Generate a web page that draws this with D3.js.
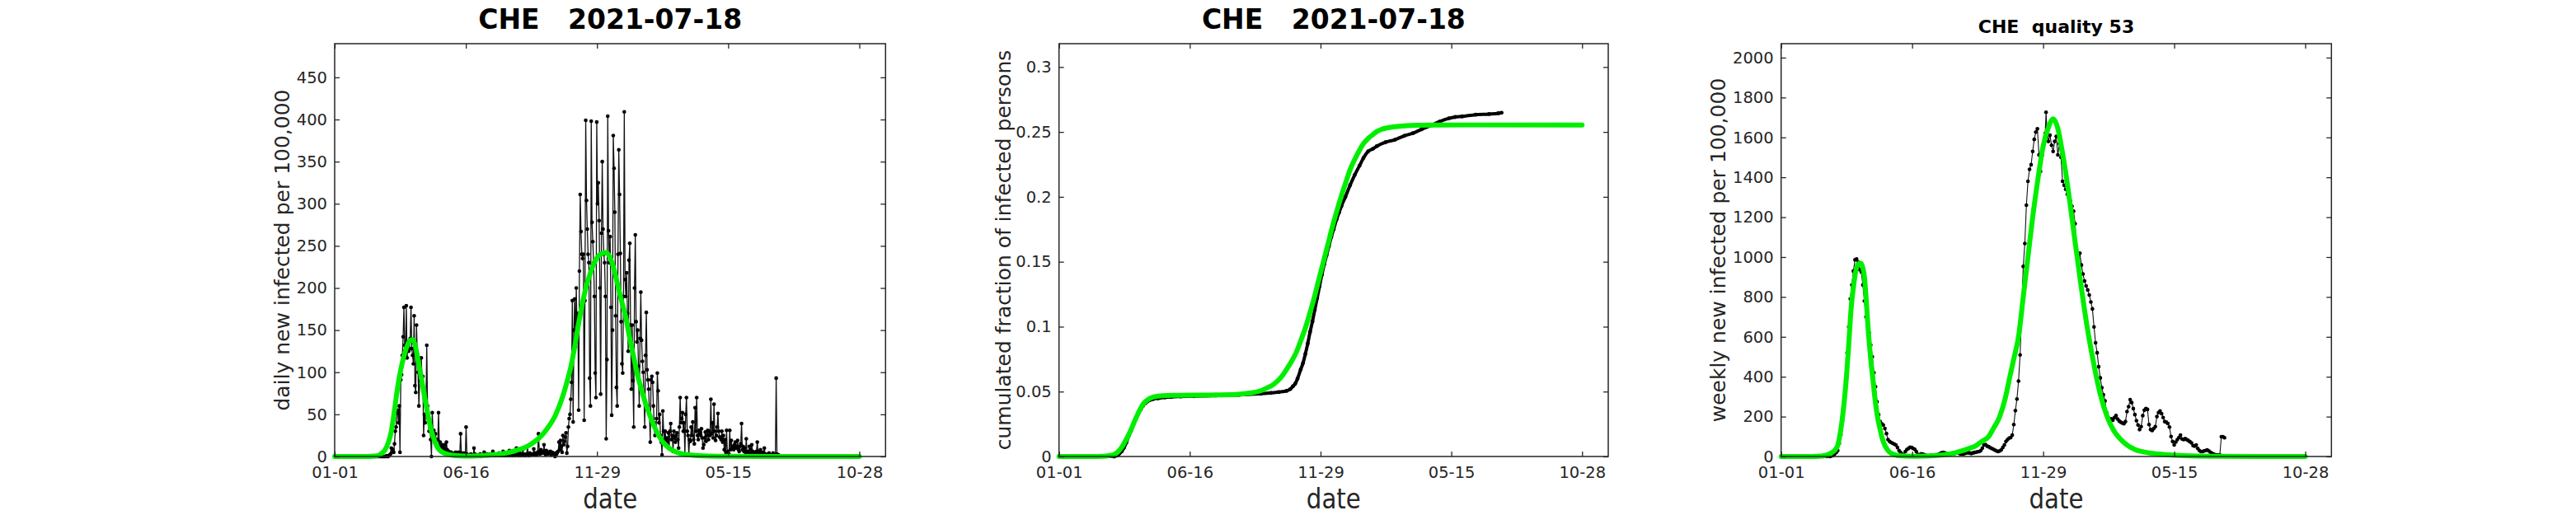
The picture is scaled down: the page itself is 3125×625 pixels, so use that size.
<!DOCTYPE html>
<html><head><meta charset="utf-8">
<script src="https://cdn.jsdelivr.net/npm/d3@7"></script>
<style>
body{margin:0;background:#fff}
text{font-family:"DejaVu Sans",sans-serif}
</style>
</head><body>
<svg id="chart" width="3125" height="625"></svg>
<script>
// ---------------- DATA ----------------
const country = "CHE";
const reportDate = "2021-07-18";
const quality = 53;

// x axis: days since 2020-01-01
const xTickDays = [0, 166.67, 333.33, 500, 666.67];
const xTickLabels = ["01-01", "06-16", "11-29", "05-15", "10-28"];

const dailyTicks = [0, 50, 100, 150, 200, 250, 300, 350, 400, 450];
const cumTicks = [0, 0.05, 0.1, 0.15, 0.2, 0.25, 0.3];
const cumTickLabels = ["0", "0.05", "0.1", "0.15", "0.2", "0.25", "0.3"];
const weeklyTicks = [0, 200, 400, 600, 800, 1000, 1200, 1400, 1600, 1800, 2000];

// daily new infected per 100,000 ; rows of 7 days, first row starts on day 49
const dailyStart = 49;
const dailyWeeks = [
  [0,0,0,0,0,0,0],          // 49
  [0,0,0,0,0,0,0],          // 56
  [0,0,0,1,0,0,1],          // 63
  [2,3,10,6,8,5,15],        // 70
  [30,35,52,55,40,60,5],    // 77
  [91,97,120,142,177,132,119], // 84
  [179,117,130,125,128,140,177], // 91
  [128,120,110,167,84,76,156],  // 98
  [119,100,60,90,96,117,95],    // 105
  [95,25,50,40,60,132,60],      // 112
  [45,30,35,20,0,52,30],        // 119
  [31,22,27,15,12,20,52],       // 126
  [10,17,8,12,14,10,5],         // 133
  [14,6,17,8,4,6,4],            // 140
  [3,5,2,3,1,4,2],              // 147
  [5,3,2,1,5,3,27],             // 154
  [4,3,2,4,3,2,35],             // 161
  [3,2,1,2,1,3,2],              // 168
  [2,1,10,3,2,1,2],             // 175
  [1,2,1,3,0,2,1],              // 182
  [2,5,1,2,3,1,2],              // 189
  [1,3,2,1,2,6,1],              // 196
  [2,1,3,2,1,2,4],              // 203
  [1,2,3,1,6,2,1],              // 210
  [4,2,1,3,2,7,1],              // 217
  [2,3,1,2,3,1,2],              // 224
  [10,3,1,2,4,1,3],             // 231
  [2,8,1,3,2,1,3],              // 238
  [12,2,1,4,3,2,2],             // 245
  [3,9,2,4,3,2,5],              // 252
  [27,6,3,8,5,4,6],             // 259
  [14,5,2,7,4,3,5],             // 266
  [4,6,2,5,3,4,3],              // 273
  [0,4,3,5,6,17,8],             // 280
  [19,12,5,25,14,18,23],        // 287
  [28,4,12,35,45,50,68],        // 294
  [88,185,41,150,187,130,200],  // 301
  [150,170,55,220,311,267,240], // 308
  [235,240,43,185,399,304,270], // 315
  [240,230,93,60,398,278,255],  // 322
  [230,190,99,70,397,300,325],  // 329
  [280,200,74,265,350,270,240], // 336
  [230,190,21,115,404,268,230], // 343
  [261,177,49,150,381,342,290], // 350
  [167,82,60,240,364,311,241],  // 357
  [160,110,99,190,409,210,190], // 364
  [218,170,125,233,253,156,80], // 371
  [156,90,35,200,263,160,136],  // 378
  [150,107,60,140,195,138,113], // 385
  [100,70,35,120,171,103,91],   // 392
  [80,50,17,91,95,88,60],       // 399
  [40,25,30,45,99,78,40],       // 406
  [50,25,17,2,54,30,20],        // 413
  [30,19,22,12,28,10,30],       // 420
  [39,20,25,6,30,22,17],        // 427
  [25,28,20,10,35,70,40],       // 434
  [45,52,30,40,2,50,70],        // 441
  [30,25,2,20,18,35,25],        // 448
  [41,20,15,58,30,70,25],       // 455
  [20,31,28,25,33,22,10],       // 462
  [14,22,29,18,25,31,20],       // 469
  [30,25,68,27,40,22,62],       // 476
  [30,19,25,35,51,30,23],       // 483
  [23,20,30,17,25,8,20],        // 490
  [5,31,4,6,3,31,8],            // 497
  [19,10,12,8,14,17,10],        // 504
  [12,19,8,6,12,15,39],         // 511
  [8,12,6,10,5,21,6],           // 518
  [5,4,12,8,3,14,6],            // 525
  [4,2,5,3,6,17,3],             // 532
  [4,6,8,3,2,5,4],              // 539
  [10,2,3,1,2,1,4],             // 546
  [1,2,1,2,4,1,0],              // 553
  [1,93,3,2,2]                  // 560
];

// model fit, daily new infected per 100,000  [day, value]
const dailyFit = [[0,0],[40,0],[50,0.5],[56,1.5],[60,4],[64,8],[68,16],[72,30],[76,55],[80,82],[84,103],[88,119],[92,131],[96,138],[99,139],[102,133],[106,114],[110,94],[114,72],[118,52],[122,34],[126,21],[130,12],[134,7],[138,4.5],[144,2.5],[150,1.5],[160,0.8],[170,0.6],[180,0.8],[190,1.2],[200,2],[210,3],[220,4.5],[230,7],[240,10],[250,15],[260,22],[270,33],[280,48],[290,72],[295,88],[300,106],[305,130],[310,158],[315,183],[320,203],[325,218],[330,230],[335,238],[340,241],[345,242],[350,236],[355,222],[360,202],[365,183],[370,165],[375,140],[380,118],[385,96],[390,79],[395,63],[400,50],[405,38],[410,28],[415,20],[420,14],[430,7],[440,3.5],[450,2],[470,0.8],[500,0.3],[550,0.05],[600,0],[666.67,0]];

// cumulated fraction of infected persons  [day, value]
const cumData = [[49,0],[70,0],[75,0.001],[80,0.004],[83,0.007],[86,0.011],[89,0.016],[92,0.020],[95,0.025],[98,0.029],[101,0.033],[104,0.036],[107,0.039],[110,0.041],[113,0.0425],[116,0.0435],[120,0.0442],[126,0.0448],[135,0.0455],[143,0.0459],[155,0.0462],[172,0.0465],[200,0.0469],[229,0.0474],[257,0.0484],[270,0.049],[280,0.0496],[290,0.0505],[295,0.052],[298,0.054],[301,0.056],[304,0.060],[308,0.067],[311,0.072],[314,0.079],[317,0.087],[320,0.096],[323,0.104],[326,0.113],[329,0.122],[332,0.131],[335,0.140],[338,0.148],[341,0.155],[344,0.162],[347,0.169],[350,0.175],[354,0.183],[357,0.188],[360,0.193],[365,0.200],[371,0.209],[377,0.217],[383,0.224],[388,0.230],[394,0.235],[400,0.237],[405,0.239],[416,0.242],[428,0.244],[440,0.247],[451,0.249],[462,0.252],[474,0.255],[485,0.258],[497,0.2605],[505,0.2615],[514,0.262],[531,0.2633],[548,0.2638],[560,0.2644],[564,0.2648]];

const cumFit = [[0,0],[50,0],[60,0.0003],[65,0.0008],[69,0.0012],[75,0.0035],[80,0.0072],[86,0.0135],[92,0.021],[98,0.0295],[103,0.036],[108,0.041],[115,0.0445],[122,0.0461],[132,0.0468],[150,0.0471],[200,0.0474],[229,0.0479],[245,0.049],[257,0.0506],[265,0.0528],[274,0.0558],[283,0.061],[291,0.068],[297,0.074],[303,0.081],[308,0.089],[314,0.099],[320,0.111],[326,0.124],[331,0.136],[337,0.150],[343,0.164],[348,0.176],[354,0.189],[360,0.201],[366,0.212],[371,0.221],[377,0.229],[383,0.236],[388,0.241],[394,0.245],[400,0.248],[405,0.2503],[411,0.252],[417,0.253],[428,0.254],[440,0.2547],[457,0.2551],[485,0.2553],[520,0.2554],[666.67,0.2554]];

// weekly new infected per 100,000  [day, value]
const weeklyData = [[50,0],[54,0],[58,0],[62,0],[64,2],[66,5],[68,12],[70,20],[72,30],[74,66],[76,110],[78,180],[80,263],[82,380],[84,520],[86,650],[88,790],[90,860],[92,930],[94,986],[96,990],[98,975],[100,937],[102,925],[104,860],[106,780],[108,700],[110,655],[112,620],[114,559],[116,500],[118,420],[120,350],[122,275],[124,210],[126,175],[128,164],[130,158],[132,140],[134,115],[136,85],[138,75],[140,70],[142,66],[144,62],[146,58],[148,45],[150,30],[152,20],[154,12],[156,8],[158,25],[160,35],[162,40],[164,46],[166,45],[168,40],[170,36],[172,25],[174,10],[176,8],[178,13],[180,12],[182,9],[184,6],[186,4],[188,3],[190,5],[192,6],[194,7],[196,8],[198,8],[200,10],[202,14],[204,18],[206,20],[208,18],[210,15],[212,12],[214,10],[216,12],[218,15],[220,14],[222,18],[224,20],[226,17],[228,13],[230,12],[232,13],[234,16],[236,18],[238,20],[240,17],[242,15],[244,18],[246,20],[248,22],[250,24],[252,25],[254,30],[256,42],[258,58],[260,60],[262,52],[264,49],[266,44],[268,40],[270,36],[272,32],[274,28],[276,25],[278,28],[280,33],[282,45],[284,58],[286,75],[288,85],[290,92],[292,95],[294,107],[296,160],[298,230],[300,288],[302,378],[304,509],[306,723],[308,953],[310,1068],[312,1260],[314,1380],[316,1440],[318,1463],[320,1530],[322,1590],[324,1627],[326,1643],[328,1512],[330,1430],[332,1510],[334,1560],[336,1620],[337,1726],[338,1650],[340,1580],[342,1611],[344,1561],[346,1530],[348,1580],[350,1605],[352,1512],[354,1569],[356,1500],[358,1380],[360,1360],[362,1340],[364,1315],[366,1298],[368,1280],[370,1255],[372,1230],[374,1167],[376,1000],[378,990],[380,1019],[382,960],[384,915],[386,880],[388,855],[390,835],[392,810],[394,775],[396,740],[398,650],[400,570],[402,520],[404,450],[406,394],[408,345],[410,310],[412,279],[414,220],[416,195],[418,181],[420,189],[422,182],[424,195],[426,205],[428,188],[430,178],[432,172],[434,168],[436,164],[438,175],[440,225],[442,250],[444,285],[446,270],[448,240],[450,210],[452,180],[454,158],[456,135],[458,150],[460,205],[462,232],[464,240],[466,236],[468,160],[470,135],[472,130],[474,140],[476,150],[478,200],[480,220],[482,228],[484,215],[486,195],[488,175],[490,172],[492,165],[494,148],[496,100],[498,75],[500,58],[502,72],[504,85],[506,95],[508,107],[510,88],[512,85],[514,90],[516,85],[518,80],[520,74],[522,68],[524,55],[526,52],[528,58],[530,40],[532,30],[534,25],[536,25],[538,28],[540,30],[542,33],[544,28],[546,22],[548,16],[550,12],[552,9],[554,8],[556,8],[558,8],[560,99],[562,99],[564,94]];

const weeklyFit = [[0,0],[40,0],[50,2],[56,5],[60,10],[64,18],[68,30],[70,40],[72,55],[74,90],[77,164],[80,265],[83,394],[86,560],[89,740],[92,850],[95,930],[98,965],[101,970],[104,945],[106,900],[108,800],[111,624],[114,490],[117,378],[120,270],[123,190],[126,135],[128,99],[131,65],[134,41],[137,25],[140,16],[145,8],[150,4],[160,2],[170,1.5],[180,2],[190,3],[200,6],[210,10],[220,17],[230,28],[240,42],[247,52],[255,75],[264,100],[270,140],[278,200],[285,290],[291,400],[296,490],[302,600],[308,800],[314,1000],[320,1200],[327,1400],[333,1550],[340,1650],[346,1693],[352,1645],[358,1520],[364,1370],[372,1134],[380,900],[389,657],[397,480],[406,312],[415,197],[423,131],[435,74],[450,35],[465,20],[480,12],[500,6],[530,2],[560,1],[600,0],[666.67,0]];

// ---------------- DRAWING ----------------
const svg = d3.select("#chart");
svg.append("rect").attr("width", 3125).attr("height", 625).attr("fill", "#fff");

const TOP = 53, BOTTOM = 554;
const AXIS_COLOR = "#262626";
const GREEN = "#00ee00";

const dailyData = [];
dailyWeeks.forEach((row, r) => row.forEach((v, c) => dailyData.push([dailyStart + 7 * r + c, v])));

const panels = [
  { left: 406, right: 1074.3, ymax: 490, ticks: dailyTicks, labels: dailyTicks.map(String),
    ylabel: "daily new infected per 100,000", ylabelX: 350.7,
    title: country + "   " + reportDate, titleSize: 33, titleY: 35,
    data: dailyData, fit: dailyFit, kind: "daily" },
  { left: 1284.7, right: 1951, ymax: 0.318, ticks: cumTicks, labels: cumTickLabels,
    ylabel: "cumulated fraction of infected persons", ylabelX: 1226,
    title: country + "   " + reportDate, titleSize: 33, titleY: 35,
    data: cumData, fit: cumFit, kind: "cum" },
  { left: 2160.7, right: 2828.3, ymax: 2070, ticks: weeklyTicks, labels: weeklyTicks.map(String),
    ylabel: "weekly new infected per 100,000", ylabelX: 2093.4,
    title: country + "  quality " + quality, titleSize: 22, titleY: 40,
    data: weeklyData, fit: weeklyFit, kind: "weekly" }
];

panels.forEach(p => {
  const x = d3.scaleLinear().domain([0, 700]).range([p.left, p.right]);
  const y = d3.scaleLinear().domain([0, p.ymax]).range([BOTTOM, TOP]);
  const g = svg.append("g");

  // observed data (black)
  if (p.kind === "cum") {
    g.append("path").datum(p.data)
      .attr("d", d3.line().x(d => x(d[0])).y(d => y(d[1])).curve(d3.curveMonotoneX))
      .attr("fill", "none").attr("stroke", "#000").attr("stroke-width", 4).attr("stroke-linecap", "round");
    g.selectAll("circle.obs").data(p.data).join("circle").attr("class", "obs")
      .attr("cx", d => x(d[0])).attr("cy", d => y(d[1])).attr("r", 2.4).attr("fill", "#000");
  } else {
    g.append("path").datum(p.data).attr("d", d3.line().x(d => x(d[0])).y(d => y(d[1])))
      .attr("fill", "none").attr("stroke", "#111").attr("stroke-width", p.kind === "daily" ? 1.3 : 1.1);
    g.selectAll("circle.obs").data(p.data).join("circle").attr("class", "obs")
      .attr("cx", d => x(d[0])).attr("cy", d => y(d[1])).attr("r", 2.3).attr("fill", "#000");
  }

  // model fit (green)
  g.append("path").datum(p.fit)
    .attr("d", d3.line().x(d => x(d[0])).y(d => y(d[1])).curve(d3.curveMonotoneX))
    .attr("fill", "none").attr("stroke", GREEN).attr("stroke-width", 6)
    .attr("stroke-linecap", "round").attr("stroke-linejoin", "round");

  // axes with inward ticks on all four sides
  const styleAxis = sel => {
    sel.select(".domain").remove();
    sel.selectAll(".tick line").attr("stroke", AXIS_COLOR).attr("stroke-width", 1.3);
    sel.selectAll(".tick text").attr("fill", AXIS_COLOR).attr("font-size", 19.5)
      .attr("font-family", "DejaVu Sans");
  };
  g.append("g").attr("transform", `translate(0,${BOTTOM})`)
    .call(d3.axisBottom(x).tickValues(xTickDays).tickFormat((d, i) => xTickLabels[i]).tickSize(-6).tickPadding(12))
    .call(styleAxis);
  g.append("g").attr("transform", `translate(0,${TOP})`)
    .call(d3.axisTop(x).tickValues(xTickDays).tickFormat("").tickSize(-6))
    .call(styleAxis);
  g.append("g").attr("transform", `translate(${p.left},0)`)
    .call(d3.axisLeft(y).tickValues(p.ticks).tickFormat((d, i) => p.labels[i]).tickSize(-6).tickPadding(9))
    .call(styleAxis);
  g.append("g").attr("transform", `translate(${p.right},0)`)
    .call(d3.axisRight(y).tickValues(p.ticks).tickFormat("").tickSize(-6))
    .call(styleAxis);

  // box
  g.append("rect").attr("x", p.left).attr("y", TOP).attr("width", p.right - p.left).attr("height", BOTTOM - TOP)
    .attr("fill", "none").attr("stroke", AXIS_COLOR).attr("stroke-width", 1.5);

  // labels
  const cx = (p.left + p.right) / 2;
  g.append("text").attr("x", cx).attr("y", 616.5).attr("text-anchor", "middle")
    .attr("font-size", 33).attr("fill", AXIS_COLOR)
    .attr("textLength", 66).attr("lengthAdjust", "spacingAndGlyphs").text("date");
  g.append("text").attr("transform", `translate(${p.ylabelX},${(TOP + BOTTOM) / 2}) rotate(-90)`)
    .attr("text-anchor", "middle").attr("font-size", 25).attr("fill", AXIS_COLOR).text(p.ylabel);
  g.append("text").attr("x", cx).attr("y", p.titleY).attr("text-anchor", "middle")
    .attr("font-size", p.titleSize).attr("font-weight", "bold").attr("fill", "#000")
    .style("white-space", "pre").text(p.title);
});
</script>
</body></html>
